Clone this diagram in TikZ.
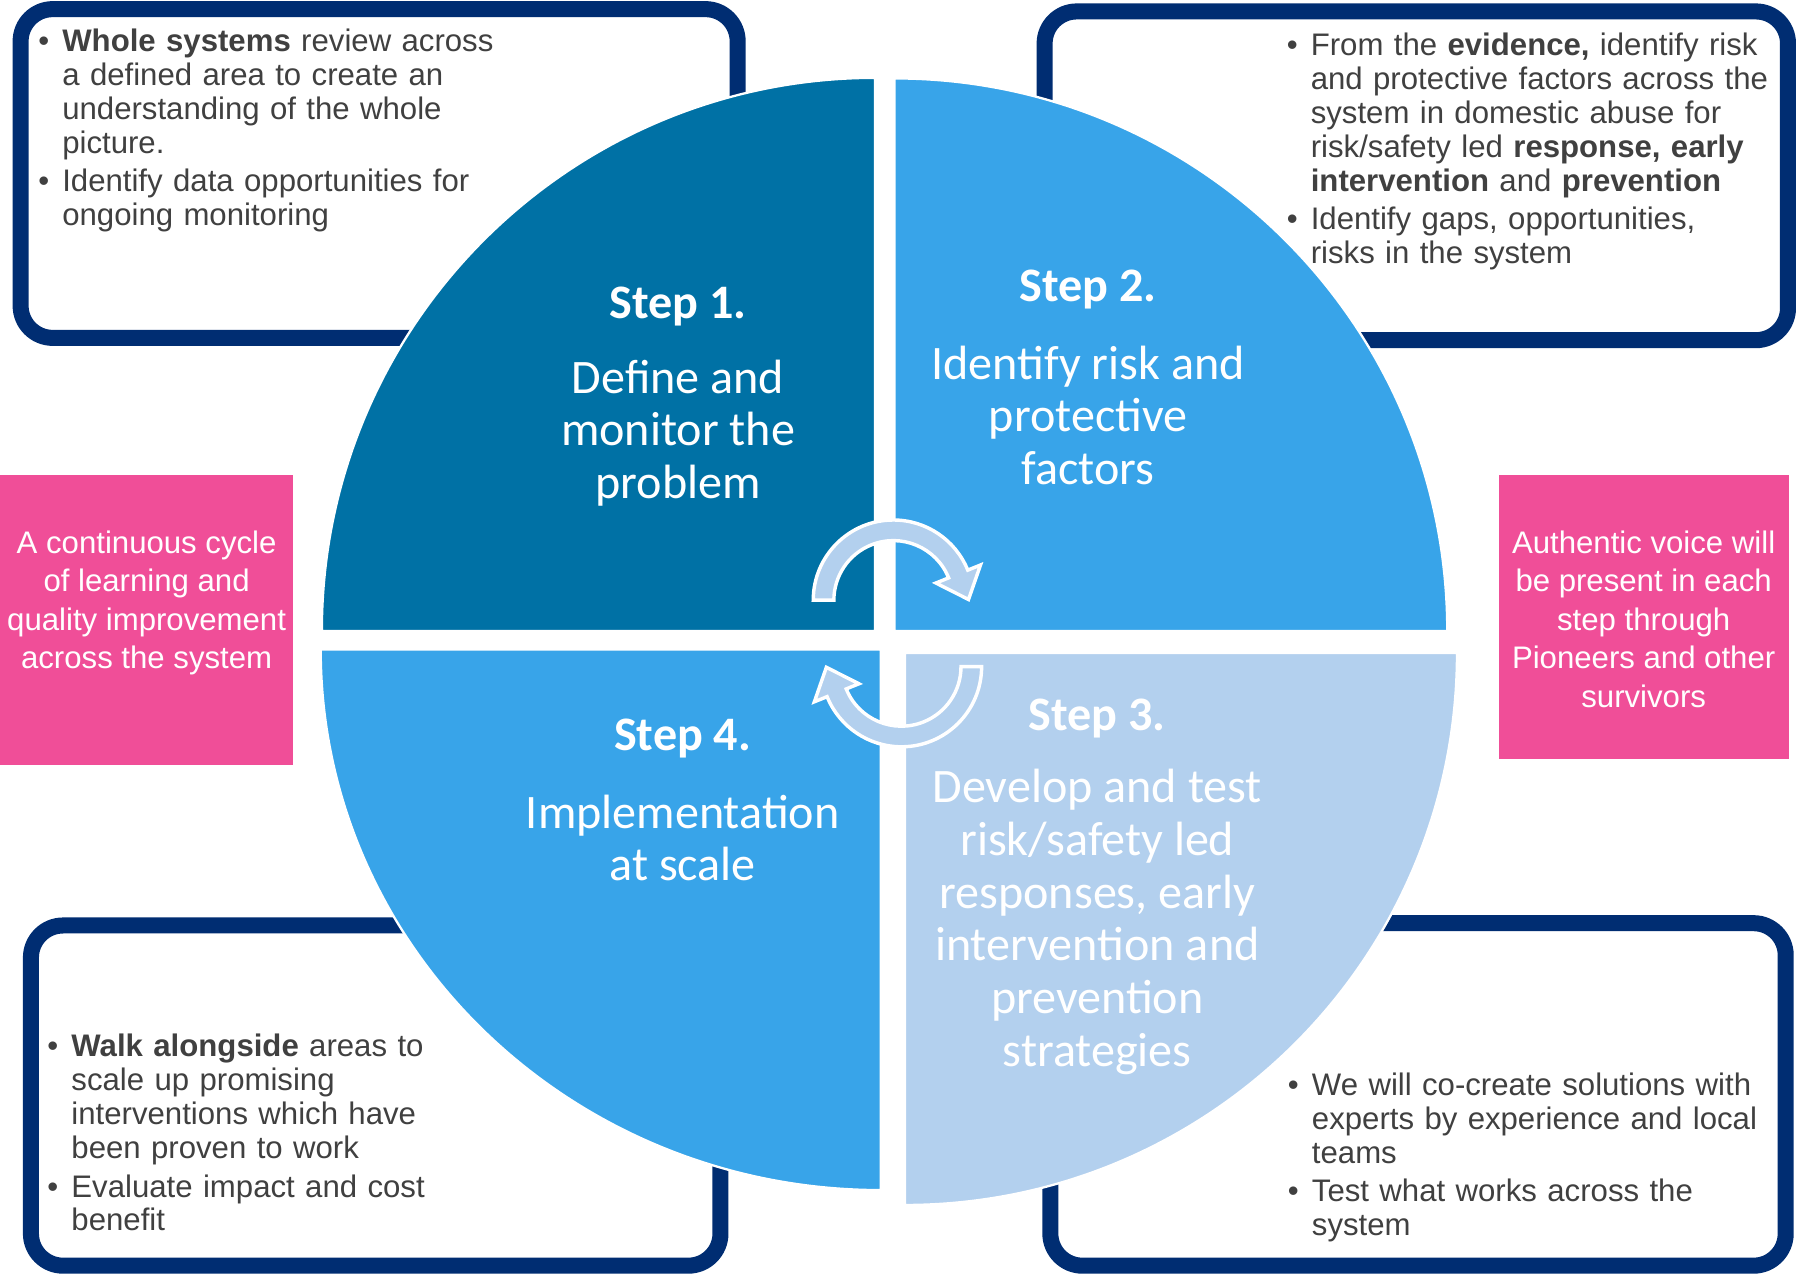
\documentclass[tikz,border=0pt]{standalone}
\usepackage{fontspec}
\setmainfont{Liberation Sans}
\newfontfamily\stepfont{Carlito}
\usetikzlibrary{calc}
\definecolor{stepdark}{HTML}{0071A5}
\definecolor{stepmid}{HTML}{38A4E9}
\definecolor{steplight}{HTML}{B3D0EE}
\definecolor{navyline}{HTML}{002D72}
\definecolor{pinkfill}{HTML}{F04E98}
\definecolor{bodygray}{HTML}{404040}
\newcommand{\bitem}[1]{\par\hangindent=10.5pt\hangafter=1\noindent\makebox[10.5pt][l]{\textbullet}#1\par}
\tikzset{
  quad/.style={draw=white, line width=1pt},
  infobox/.style={draw=navyline, line width=7pt, rounded corners=14pt, fill=white},
  pinkrect/.style={fill=pinkfill},
  pinktext/.style={text=white, align=center, inner sep=0pt, font=\fontsize{13.6}{16.85}\selectfont},
  steptitle/.style={text=white, inner sep=0pt, font=\stepfont\bfseries\fontsize{21}{24}\selectfont},
  stepbody/.style={text=white, align=center, inner sep=0pt, font=\stepfont\fontsize{21}{23}\selectfont},
  boxtext/.style={text=bodygray, anchor=west, text width=235pt, align=left, inner sep=0pt, font=\fontsize{13.6}{14.8}\selectfont},
  cyclearrow/.style={fill=steplight, draw=white, line width=1.5pt, line join=miter}
}
\begin{document}
\begin{tikzpicture}[x=0.5pt,y=0.5pt]
\useasboundingbox (0,0) rectangle (1568,1112);
% outlined boxes
\draw[infobox] (18,1104) rectangle (644,817);
\draw[infobox] (912,1102) rectangle (1561,815);
\draw[infobox] (27,304) rectangle (629,7);
\draw[infobox] (917,306) rectangle (1559,7);
% pink boxes
\fill[pinkrect] (0,444) rectangle (256,697);
\fill[pinkrect] (1309,449) rectangle (1562,697);
% quadrants
\filldraw[quad, fill=stepdark] (764,561) -- (281,561) arc[start angle=180, end angle=90, radius=483] -- cycle;
\filldraw[quad, fill=stepmid] (781,561) -- (781,1043.5) arc[start angle=90, end angle=0, radius=482.5] -- cycle;
\filldraw[quad, fill=stepmid] (769,545) -- (280,545) arc[start angle=180, end angle=270, x radius=489, y radius=472] -- cycle;
\filldraw[quad, fill=steplight] (790,542) -- (1272,542) arc[start angle=0, end angle=-90, radius=482] -- cycle;
% cycle arrows
\begin{scope}[shift={(780,588)}]
  \coordinate (ta) at (0,0);
  \filldraw[cyclearrow] (180:70) arc[start angle=180, end angle=22, radius=70]
    -- (22:82) -- ($(22:61)+(-68:24)$) -- (22:40) -- (22:52)
    arc[start angle=22, end angle=180, radius=52] -- cycle;
\end{scope}
\begin{scope}[shift={(787,530)}]
  \coordinate (ba) at (0,0);
  \filldraw[cyclearrow] (0:70) arc[start angle=0, end angle=-158, radius=70]
    -- (-158:82) -- ($(-158:61)+(112:24)$) -- (-158:40) -- (-158:52)
    arc[start angle=-158, end angle=0, radius=52] -- cycle;
\end{scope}
% step texts
\node[steptitle] (s1t) at (592,844) {Step 1.};
\node[stepbody] (s1b) at (592,734) {Define and\\monitor the\\problem};
\node[steptitle] (s2t) at (950,859) {Step 2.};
\node[stepbody] (s2b) at (950,749.5) {Identify risk and\\protective\\factors};
\node[steptitle] (s4t) at (596,467) {Step 4.};
\node[stepbody] (s4b) at (596,380.5) {Implementation\\at scale};
\node[steptitle] (s3t) at (958,485) {Step 3.};
\node[stepbody] (s3b) at (958,307) {Develop and test\\risk/safety led\\responses, early\\intervention and\\prevention\\strategies};
% pink texts
\node[pinktext] (pl) at (128,585.5) {A continuous cycle\\of learning and\\quality improvement\\across the system};
\node[pinktext] (pr) at (1435,571.5) {Authentic voice will\\be present in each\\step through\\Pioneers and other\\survivors};
% box texts
\node[boxtext] (tl) at (33,1005) {\setlength{\parskip}{2pt}%
\bitem{\textbf{Whole systems} review across\newline a defined area to create an\newline understanding of the whole\newline picture.}%
\bitem{Identify data opportunities for\newline ongoing monitoring}};
\node[boxtext] (tr) at (1123,986.5) {\setlength{\parskip}{2pt}%
\bitem{From the \textbf{evidence,} identify risk\newline and protective factors across the\newline system in domestic abuse for\newline risk/safety led \textbf{response, early}\newline \textbf{intervention} and \textbf{prevention}}%
\bitem{Identify gaps, opportunities,\newline risks in the system}};
\node[boxtext] (bl) at (41,130) {\setlength{\parskip}{2pt}%
\bitem{\textbf{Walk alongside} areas to\newline scale up promising\newline interventions which have\newline been proven to work}%
\bitem{Evaluate impact and cost\newline benefit}};
\node[boxtext] (br) at (1124,108.5) {\setlength{\parskip}{2pt}%
\bitem{We will co-create solutions with\newline experts by experience and local\newline teams}%
\bitem{Test what works across the\newline system}};
\end{tikzpicture}
\end{document}
